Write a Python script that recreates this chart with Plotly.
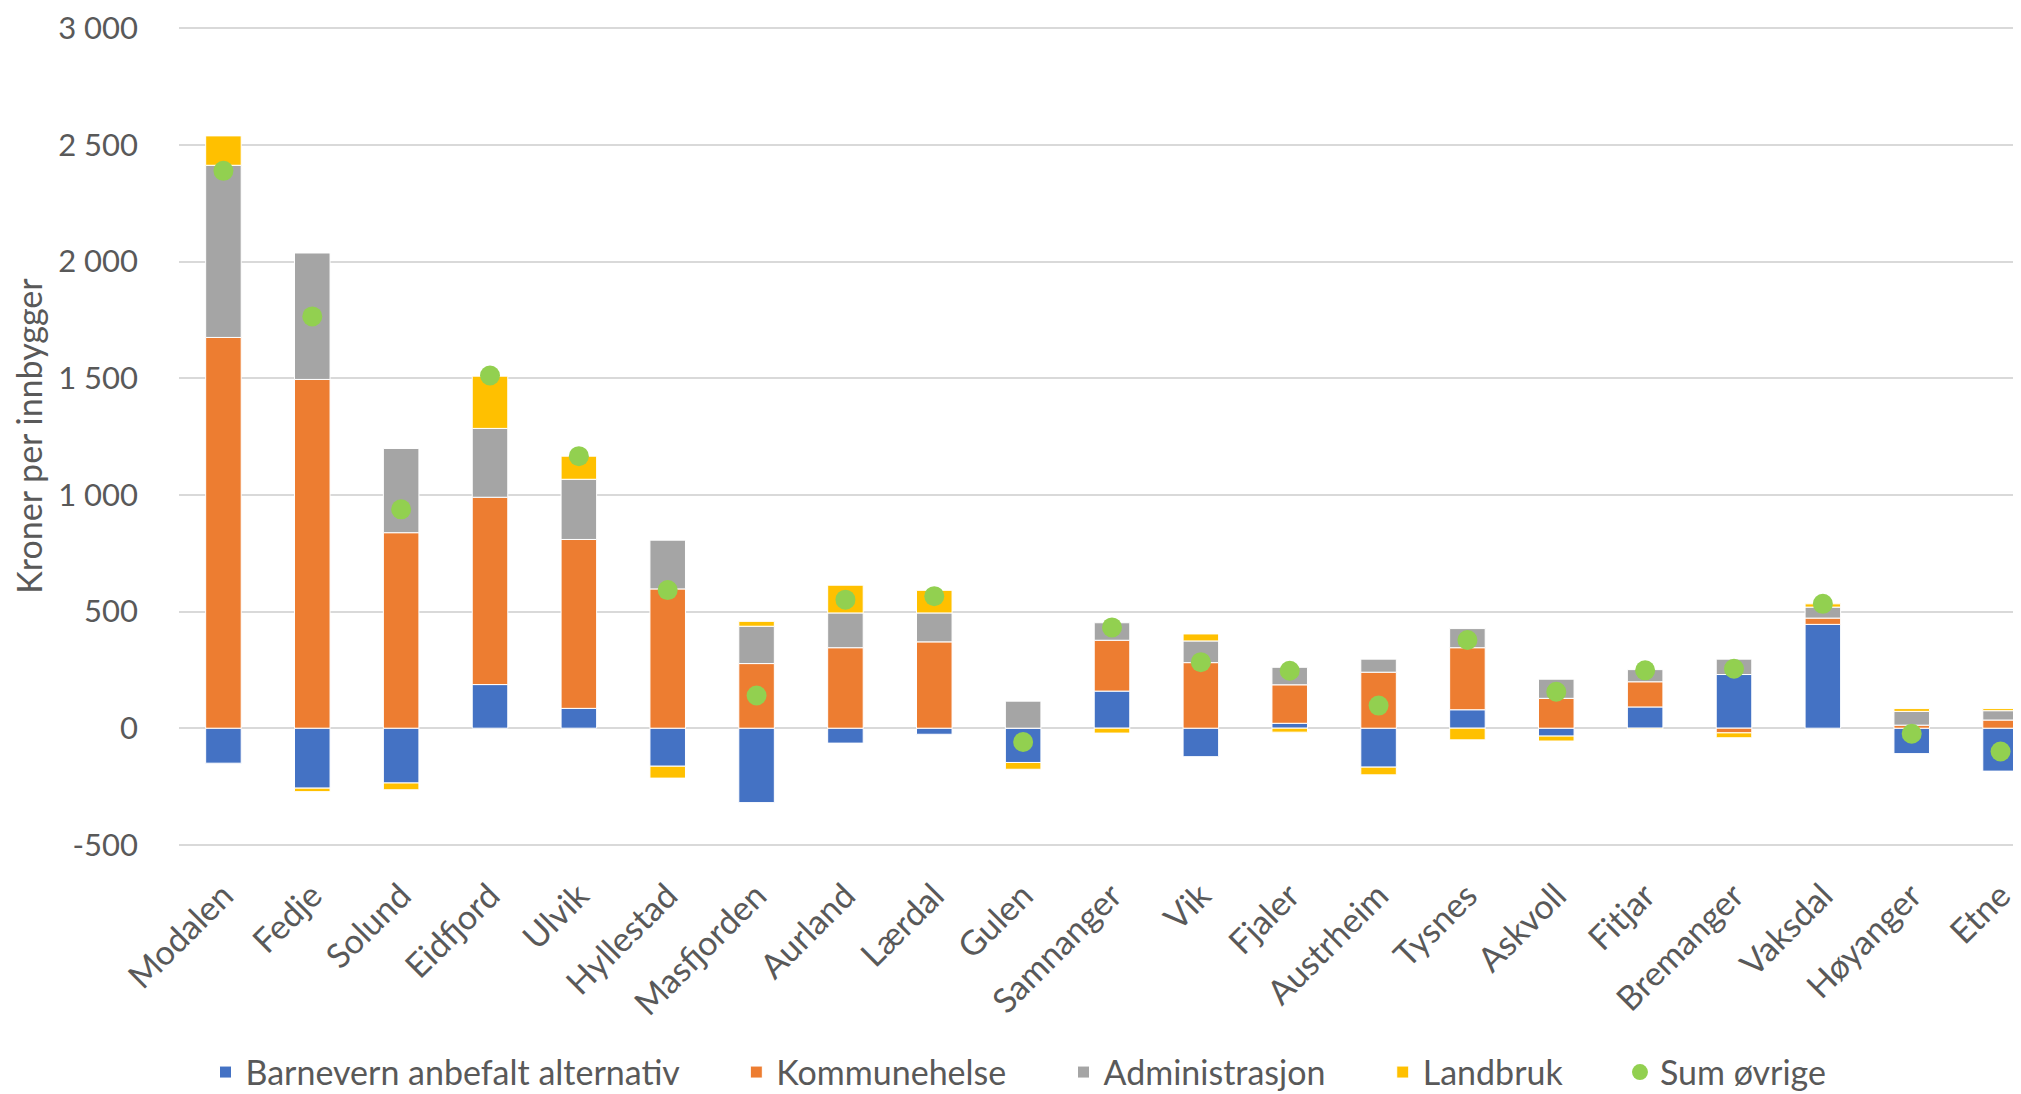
import plotly.graph_objects as go

# ---------------- Data ----------------
kommuner = ['Modalen', 'Fedje', 'Solund', 'Eidfjord', 'Ulvik', 'Hyllestad', 'Masfjorden',
            'Aurland', 'Lærdal', 'Gulen', 'Samnanger', 'Vik', 'Fjaler', 'Austrheim',
            'Tysnes', 'Askvoll', 'Fitjar', 'Bremanger', 'Vaksdal', 'Høyanger', 'Etne']

barnevern = [-150, -257, -235, 187, 85, -163, -319, -64, -26, -147, 159,
             -122, 21, -167, 79, -34, 91, 230, 445, -109, -184]
kommunehelse = [1675, 1495, 838, 803, 724, 597, 277, 345, 370, 0, 218,
                281, 165, 240, 266, 128, 108, -20, 27, 13, 35]
administrasjon = [738, 542, 361, 295, 258, 209, 160, 149, 124, 116, 75,
                  93, 75, 56, 82, 82, 52, 66, 47, 59, 40]
landbruk = [126, -15, -29, 224, 99, -51, 21, 119, 97, -29, -21,
            30, -17, -33, -50, -21, -4, -21, 14, 12, 9]
sum_ovrige = [2389, 1765, 938, 1512, 1166, 592, 140, 551, 566, -59, 432,
              283, 246, 97, 378, 156, 248, 255, 533, -24, -100]

y_ticks = [-500, 0, 500, 1000, 1500, 2000, 2500, 3000]
y_tick_text = ['-500', '0', '500', '1 000', '1 500', '2 000', '2 500', '3 000']

# ---------------- Figure ----------------
FONT = 'Lato'
GREY_TXT = '#595959'
PAD = '\u00a0' * 6  # extra room between legend entries

fig = go.Figure()
bar_series = [
    ('Barnevern anbefalt alternativ', barnevern, '#4472C4'),
    ('Kommunehelse', kommunehelse, '#ED7D31'),
    ('Administrasjon', administrasjon, '#A5A5A5'),
    ('Landbruk', landbruk, '#FFC000'),
]
for name, vals, col in bar_series:
    fig.add_trace(go.Bar(x=kommuner, y=vals, name=name + PAD,
                         marker=dict(color=col, line=dict(color='white', width=1))))

fig.add_trace(go.Scatter(x=kommuner, y=sum_ovrige, name='Sum øvrige', mode='markers',
                         marker=dict(color='#92D050', size=20, line=dict(width=0))))

fig.update_layout(
    width=2021, height=1094,
    barmode='relative', bargap=0.6,
    plot_bgcolor='white', paper_bgcolor='white',
    margin=dict(l=171, r=0, t=14, b=256),
    font=dict(family=FONT, size=34, color=GREY_TXT),
    legend=dict(orientation='h', xref='container', yref='container',
                x=0.5, xanchor='center', y=0.027, yanchor='middle',
                font=dict(size=34, color=GREY_TXT),
                traceorder='normal'),
)
fig.update_xaxes(range=[-0.5, 20.32], tickangle=-45, showgrid=False,
                 showline=False, ticks='', ticklabelstandoff=22,
                 tickfont=dict(size=34, color=GREY_TXT))
fig.update_yaxes(range=[-505, 3010], tickvals=y_ticks, ticktext=y_tick_text,
                 showgrid=True, gridcolor='#D9D9D9', gridwidth=2,
                 zeroline=True, zerolinecolor='#D9D9D9', zerolinewidth=2,
                 ticks='', ticklabelstandoff=40, ticklabeloverflow='allow',
                 tickfont=dict(size=31, color=GREY_TXT),
                 title=dict(text='Kroner per innbygger', standoff=12,
                            font=dict(size=34, color=GREY_TXT)))

fig.write_html("out.html")
